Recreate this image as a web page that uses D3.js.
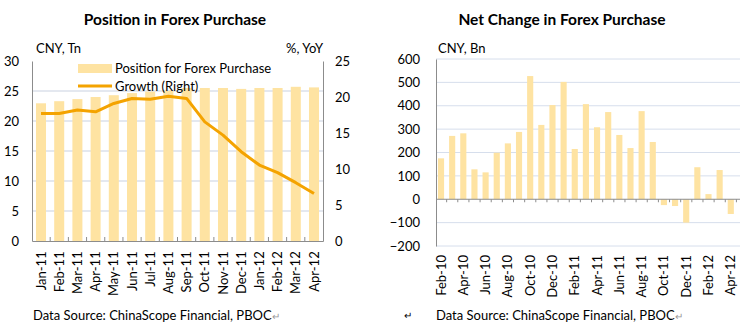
<!DOCTYPE html>
<html>
<head>
<meta charset="utf-8">
<script src="https://cdn.jsdelivr.net/npm/d3@7"></script>
<style>
  body { margin: 0; background: #fff; }
  svg text { font-family: Lato, "Liberation Sans", sans-serif; fill: #000; }
</style>
</head>
<body>
<div id="chart"></div>
<script>
// Position in forex purchase (CNY Tn) and YoY growth (%)
const posMonths = ["Jan-11", "Feb-11", "Mar-11", "Apr-11", "May-11", "Jun-11", "Jul-11", "Aug-11",
  "Sep-11", "Oct-11", "Nov-11", "Dec-11", "Jan-12", "Feb-12", "Mar-12", "Apr-12"];
const posValues = [22.95, 23.3, 23.65, 24.0, 24.3, 24.65, 24.9, 25.05,
  25.5, 25.5, 25.5, 25.35, 25.5, 25.5, 25.7, 25.6];
const growthValues = [17.7, 17.7, 18.2, 17.95, 19.1, 19.8, 19.7, 20.1,
  19.8, 16.55, 14.7, 12.4, 10.55, 9.5, 8.1, 6.6];
const posLeftTicks = [0, 5, 10, 15, 20, 25, 30];
const posRightTicks = [0, 5, 10, 15, 20, 25];

// Net change in forex purchase (CNY Bn)
const netMonths = ["Feb-10", "Mar-10", "Apr-10", "May-10", "Jun-10", "Jul-10", "Aug-10", "Sep-10",
  "Oct-10", "Nov-10", "Dec-10", "Jan-11", "Feb-11", "Mar-11", "Apr-11", "May-11", "Jun-11",
  "Jul-11", "Aug-11", "Sep-11", "Oct-11", "Nov-11", "Dec-11", "Jan-12", "Feb-12", "Mar-12", "Apr-12"];
const netValues = [175, 271, 282, 128, 115, 199, 239, 288, 527, 318, 403, 502, 215, 407, 308,
  373, 275, 219, 377, 245, -25, -29, -100, 137, 22, 125, -63];
const netLabels = ["Feb-10", "Apr-10", "Jun-10", "Aug-10", "Oct-10", "Dec-10", "Feb-11",
  "Apr-11", "Jun-11", "Aug-11", "Oct-11", "Dec-11", "Feb-12", "Apr-12"];
const netTicks = [-200, -100, 0, 100, 200, 300, 400, 500, 600];

var width = 740, height = 329;
var barColor = "#FEE3A2";
var lineColor = "#F4A300";
var gridColor = "#C9D1E0";
var axisColor = "#8C8C8C";
var fontSize = "13px";

var svg = d3.select("#chart").append("svg")
  .attr("width", width)
  .attr("height", height);

// ---------- Left chart ----------
function drawPosition() {
  var g = svg.append("g");
  var x = d3.scaleBand().domain(posMonths).range([32, 323]).paddingInner(0.45).paddingOuter(0.22);
  var yL = d3.scaleLinear().domain([0, 30]).range([241, 61]);
  var yR = d3.scaleLinear().domain([0, 25]).range([241, 61]);

  // gridlines
  g.selectAll(".grid").data(posLeftTicks.filter(function(d) { return d > 0 && d < 30; }))
    .enter().append("line")
    .attr("x1", 32).attr("x2", 323)
    .attr("y1", function(d) { return yL(d); })
    .attr("y2", function(d) { return yL(d); })
    .attr("stroke", gridColor).attr("stroke-width", 1);

  // bars
  g.selectAll(".bar").data(posValues).enter().append("rect")
    .attr("x", function(d, i) { return x(posMonths[i]); })
    .attr("width", x.bandwidth())
    .attr("y", function(d) { return yL(d); })
    .attr("height", function(d) { return yL(0) - yL(d); })
    .attr("fill", barColor);

  // axes
  var left = g.append("g").attr("transform", "translate(32,0)")
    .call(d3.axisLeft(yL).tickValues(posLeftTicks).tickSize(0).tickPadding(13));
  var right = g.append("g").attr("transform", "translate(323,0)")
    .call(d3.axisRight(yR).tickValues(posRightTicks).tickSize(0).tickPadding(12));
  var bottom = g.append("g").attr("transform", "translate(0,241)")
    .call(d3.axisBottom(x).tickSize(0).tickPadding(9));
  [left, right, bottom].forEach(function(a) {
    a.select(".domain").attr("stroke", axisColor);
    a.selectAll("text").style("font-size", fontSize).attr("fill", "#000");
  });
  bottom.selectAll("text")
    .attr("transform", "rotate(-90)")
    .attr("text-anchor", "end")
    .attr("dx", "-0.1em")
    .attr("dy", "0.35em")
    .attr("y", 0)
    .attr("x", -9);

  // small tick marks on category boundaries
  g.selectAll(".xtick").data(d3.range(1, posMonths.length))
    .enter().append("line")
    .attr("x1", function(i) { return 32 + i * 291 / posMonths.length; })
    .attr("x2", function(i) { return 32 + i * 291 / posMonths.length; })
    .attr("y1", 241).attr("y2", 237)
    .attr("stroke", axisColor);

  // growth line
  var line = d3.line()
    .x(function(d, i) { return x(posMonths[i]) + x.bandwidth() / 2; })
    .y(function(d) { return yR(d); });
  g.append("path").datum(growthValues)
    .attr("d", line)
    .attr("fill", "none")
    .attr("stroke", lineColor)
    .attr("stroke-width", 3)
    .attr("stroke-linejoin", "round");

  // legend
  g.append("rect").attr("x", 78).attr("y", 64).attr("width", 34).attr("height", 9).attr("fill", barColor);
  g.append("text").attr("x", 115).attr("y", 73).style("font-size", fontSize).text("Position for Forex Purchase");
  g.append("line").attr("x1", 78).attr("x2", 112).attr("y1", 86).attr("y2", 86)
    .attr("stroke", lineColor).attr("stroke-width", 3);
  g.append("text").attr("x", 115).attr("y", 91).style("font-size", fontSize).text("Growth (Right)");

  // titles
  g.append("text").attr("x", 175).attr("y", 25).attr("text-anchor", "middle")
    .style("font-size", "15.5px").style("font-weight", "bold").text("Position in Forex Purchase");
  g.append("text").attr("x", 36).attr("y", 53).style("font-size", fontSize).text("CNY, Tn");
  g.append("text").attr("x", 323).attr("y", 53).attr("text-anchor", "end").style("font-size", fontSize).text("%, YoY");
  var src = g.append("text").attr("x", 33).attr("y", 320).style("font-size", fontSize);
  src.append("tspan").text("Data Source: ChinaScope Financial,  PBOC");
  src.append("tspan").attr("fill", "#999").style("font-size", "10px").text("\u21B5");
}

// ---------- Right chart ----------
function drawNetChange() {
  var g = svg.append("g");
  var x = d3.scaleBand().domain(netMonths).range([435.5, 736.3]).paddingInner(0.45).paddingOuter(0.22);
  var y = d3.scaleLinear().domain([-200, 600]).range([246, 59]);

  g.selectAll(".grid").data(netTicks.filter(function(d) { return d !== 0; }))
    .enter().append("line")
    .attr("x1", 436).attr("x2", 740)
    .attr("y1", function(d) { return y(d); })
    .attr("y2", function(d) { return y(d); })
    .attr("stroke", "#D6DEEC").attr("stroke-width", 1);

  g.selectAll(".bar").data(netValues).enter().append("rect")
    .attr("x", function(d, i) { return x(netMonths[i]); })
    .attr("width", x.bandwidth())
    .attr("y", function(d) { return y(Math.max(0, d)); })
    .attr("height", function(d) { return Math.abs(y(d) - y(0)); })
    .attr("fill", barColor);

  var left = g.append("g").attr("transform", "translate(436,0)")
    .call(d3.axisLeft(y).tickValues(netTicks).tickSize(0).tickPadding(16));
  left.select(".domain").attr("stroke", axisColor);
  left.selectAll("text").style("font-size", fontSize).attr("fill", "#000");

  // zero line with ticks
  g.append("line").attr("x1", 436).attr("x2", 740).attr("y1", y(0)).attr("y2", y(0)).attr("stroke", axisColor);
  g.selectAll(".xtick").data(d3.range(1, netMonths.length + 1))
    .enter().append("line")
    .attr("x1", function(i) { return x(netMonths[0]) - x.step() * x.paddingOuter() + i * x.step(); })
    .attr("x2", function(i) { return x(netMonths[0]) - x.step() * x.paddingOuter() + i * x.step(); })
    .attr("y1", y(0)).attr("y2", y(0) + 3)
    .attr("stroke", axisColor);

  // month labels (every other month)
  g.selectAll(".xlab").data(netLabels).enter().append("text")
    .attr("transform", function(d) {
      return "translate(" + (x(d) + x.bandwidth() / 2) + ",255) rotate(-90)";
    })
    .attr("text-anchor", "end")
    .attr("dy", "0.35em")
    .style("font-size", fontSize)
    .text(function(d) { return d; });

  g.append("text").attr("x", 562).attr("y", 25).attr("text-anchor", "middle")
    .style("font-size", "15.5px").style("font-weight", "bold").text("Net Change  in Forex Purchase");
  g.append("text").attr("x", 438).attr("y", 53).style("font-size", fontSize).text("CNY, Bn");
  g.append("text").attr("x", 404).attr("y", 319).attr("fill", "#999").style("font-size", "10px").text("\u21B5");
  var src = g.append("text").attr("x", 436).attr("y", 320).style("font-size", fontSize);
  src.append("tspan").text("Data Source: ChinaScope Financial,  PBOC");
  src.append("tspan").attr("fill", "#999").style("font-size", "10px").text("\u21B5");
}

drawPosition();
drawNetChange();
</script>
</body>
</html>
